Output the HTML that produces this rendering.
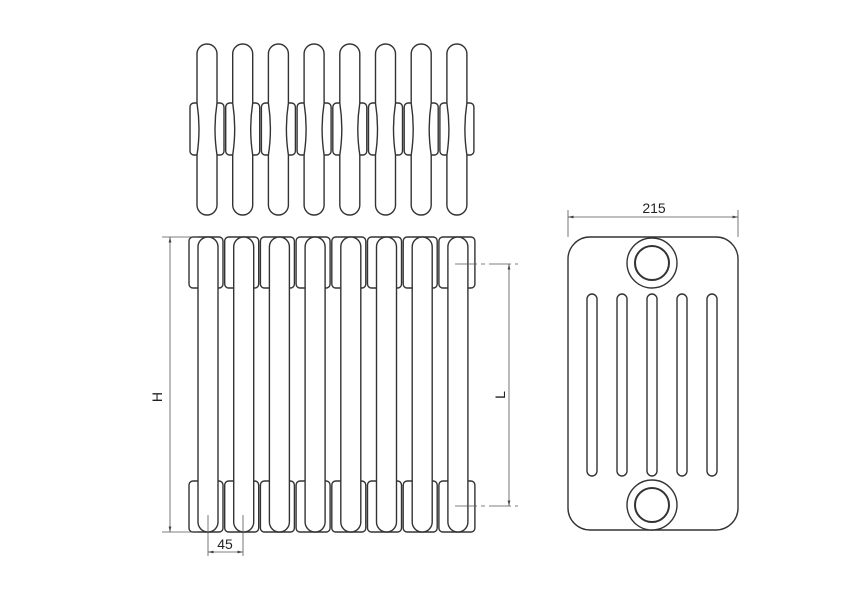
<!DOCTYPE html>
<html><head><meta charset="utf-8"><style>
html,body{margin:0;padding:0;background:#fff}
svg{display:block}
text{font-family:"Liberation Sans",sans-serif;fill:#222}
</style></head><body>
<svg width="850" height="600" viewBox="0 0 850 600" xmlns="http://www.w3.org/2000/svg">
<defs>
<marker id="a" viewBox="0 0 10 10" refX="10" refY="5" markerWidth="7" markerHeight="7" orient="auto-start-reverse"><path d="M0,2.5 L10,5 L0,7.5 Z" fill="#444" stroke="none"/></marker>
</defs>
<g fill="#fff" stroke="#333" stroke-width="1.4">
<g id="tp">
<rect x="190" y="103" width="34" height="52" rx="4"/>
<rect x="225.7" y="103" width="34" height="52" rx="4"/>
<rect x="261.4" y="103" width="34" height="52" rx="4"/>
<rect x="297.1" y="103" width="34" height="52" rx="4"/>
<rect x="332.8" y="103" width="34" height="52" rx="4"/>
<rect x="368.5" y="103" width="34" height="52" rx="4"/>
<rect x="404.2" y="103" width="34" height="52" rx="4"/>
<rect x="439.9" y="103" width="34" height="52" rx="4"/>
</g>
<path id="tt" d="M197,54 A10,10 0 0 1 217,54 L217,103 Q213,129 217,155 L217,205 A10,10 0 0 1 197,205 L197,155 Q201,129 197,103 Z"/>
<use href="#tt" x="35.7"/><use href="#tt" x="71.4"/><use href="#tt" x="107.1"/><use href="#tt" x="142.8"/><use href="#tt" x="178.5"/><use href="#tt" x="214.2"/><use href="#tt" x="249.9"/>

<g id="hd">
<rect x="189" y="237" width="34" height="51" rx="4"/>
<rect x="224.7" y="237" width="34" height="51" rx="4"/>
<rect x="260.4" y="237" width="34" height="51" rx="4"/>
<rect x="296.1" y="237" width="34" height="51" rx="4"/>
<rect x="331.8" y="237" width="34" height="51" rx="4"/>
<rect x="367.5" y="237" width="34" height="51" rx="4"/>
<rect x="403.2" y="237" width="34" height="51" rx="4"/>
<rect x="438.9" y="237" width="36" height="51" rx="4"/>
</g>
<use href="#hd" y="244"/>
<rect id="ft" x="198" y="237" width="20" height="295" rx="10"/>
<use href="#ft" x="35.7"/><use href="#ft" x="71.4"/><use href="#ft" x="107.1"/><use href="#ft" x="142.8"/><use href="#ft" x="178.5"/><use href="#ft" x="214.2"/><use href="#ft" x="249.9"/>

<rect x="568" y="237" width="170" height="293" rx="22"/>
<circle cx="652" cy="263" r="25"/><circle cx="652" cy="263" r="17" stroke-width="2"/>
<circle cx="652" cy="505" r="25"/><circle cx="652" cy="505" r="17" stroke-width="2"/>
<rect x="587" y="294" width="10" height="182" rx="5"/>
<rect x="617" y="294" width="10" height="182" rx="5"/>
<rect x="647" y="294" width="10" height="182" rx="5"/>
<rect x="677" y="294" width="10" height="182" rx="5"/>
<rect x="707" y="294" width="10" height="182" rx="5"/>
</g>
<g stroke="#555" stroke-width="0.8" fill="none">
<line x1="162" y1="237" x2="198" y2="237"/>
<line x1="162" y1="532" x2="198" y2="532"/>
<line x1="170" y1="237" x2="170" y2="532" marker-start="url(#a)" marker-end="url(#a)"/>
<line x1="455" y1="264" x2="518" y2="264" stroke-dasharray="22,4,4,4"/>
<line x1="455" y1="506" x2="518" y2="506" stroke-dasharray="22,4,4,4"/>
<line x1="509" y1="264" x2="509" y2="506" marker-start="url(#a)" marker-end="url(#a)"/>
<line x1="208" y1="515" x2="208" y2="556"/>
<line x1="243" y1="515" x2="243" y2="556"/>
<line x1="208" y1="552" x2="243" y2="552" marker-start="url(#a)" marker-end="url(#a)"/>
<line x1="568" y1="210" x2="568" y2="237"/>
<line x1="738" y1="210" x2="738" y2="237"/>
<line x1="568" y1="217" x2="738" y2="217" marker-start="url(#a)" marker-end="url(#a)"/>
</g>
<text x="225" y="549" font-size="14" text-anchor="middle">45</text>
<text x="654" y="213" font-size="14" text-anchor="middle">215</text>
<text transform="translate(162,397) rotate(-90)" font-size="14" text-anchor="middle">H</text>
<text transform="translate(505,395) rotate(-90)" font-size="14" text-anchor="middle">L</text>
</svg>
</body></html>
